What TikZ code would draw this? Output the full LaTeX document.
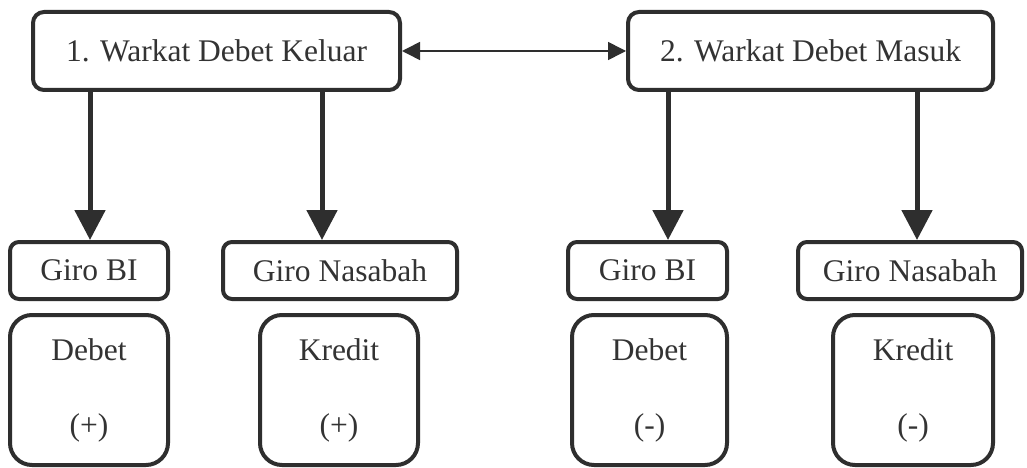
\documentclass[tikz,border=0pt]{standalone}
\usepackage{fontspec}
\setmainfont{Liberation Serif}
\usetikzlibrary{arrows.meta}
\definecolor{ink}{HTML}{2E2E2E}
\definecolor{txt}{HTML}{333333}
\begin{document}
\begin{tikzpicture}[x=1pt,y=-1pt,
  topbox/.style={draw=ink, line width=4pt, rounded corners=11pt, text=txt,
    font=\fontsize{31.5}{38}\selectfont, inner sep=0pt, minimum height=78pt},
  girobox/.style={draw=ink, line width=4pt, rounded corners=9pt, text=txt,
    font=\fontsize{31.5}{38}\selectfont, inner sep=0pt, minimum height=57pt},
  sidebox/.style={draw=ink, line width=4pt, rounded corners=22pt, text=txt,
    font=\fontsize{31.5}{38}\selectfont, inner sep=0pt, minimum height=150pt, align=center},
  varrow/.style={draw=ink, line width=5pt, -{Triangle[length=30pt,width=30pt]}},
  harrow/.style={draw=ink, line width=1.6pt, {Triangle[length=18pt,width=18pt]}-{Triangle[length=18pt,width=18pt]}}
]
\useasboundingbox[fill=white] (0,0) rectangle (1027,468);

\node[topbox, minimum width=367pt] (w1) at (216.5,51) {1. Warkat Debet Keluar};
\node[topbox, minimum width=365pt] (w2) at (810.5,51) {2. Warkat Debet Masuk};

\node[girobox, minimum width=158pt] (gb1) at (89,270.5) {Giro BI};
\node[girobox, minimum width=234pt] (gn1) at (340,270.5) {Giro Nasabah};
\node[girobox, minimum width=159pt] (gb2) at (647.5,270.5) {Giro BI};
\node[girobox, minimum width=224pt] (gn2) at (910,270.5) {Giro Nasabah};

\node[sidebox, minimum width=158pt] (d1) at (89,390) {Debet\\[37pt](+)};
\node[sidebox, minimum width=158pt] (k1) at (339,390) {Kredit\\[37pt](+)};
\node[sidebox, minimum width=155pt] (d2) at (649.5,390) {Debet\\[37pt](-)};
\node[sidebox, minimum width=160pt] (k2) at (913,390) {Kredit\\[37pt](-)};

\draw[harrow] (w1.east) -- (w2.west);
\draw[varrow] (w1.south -| 90,0) -- (gb1.north -| 90,0);
\draw[varrow] (w1.south -| 322,0) -- (gn1.north -| 322,0);
\draw[varrow] (w2.south -| 668,0) -- (gb2.north -| 668,0);
\draw[varrow] (w2.south -| 917,0) -- (gn2.north -| 917,0);
\end{tikzpicture}
\end{document}
